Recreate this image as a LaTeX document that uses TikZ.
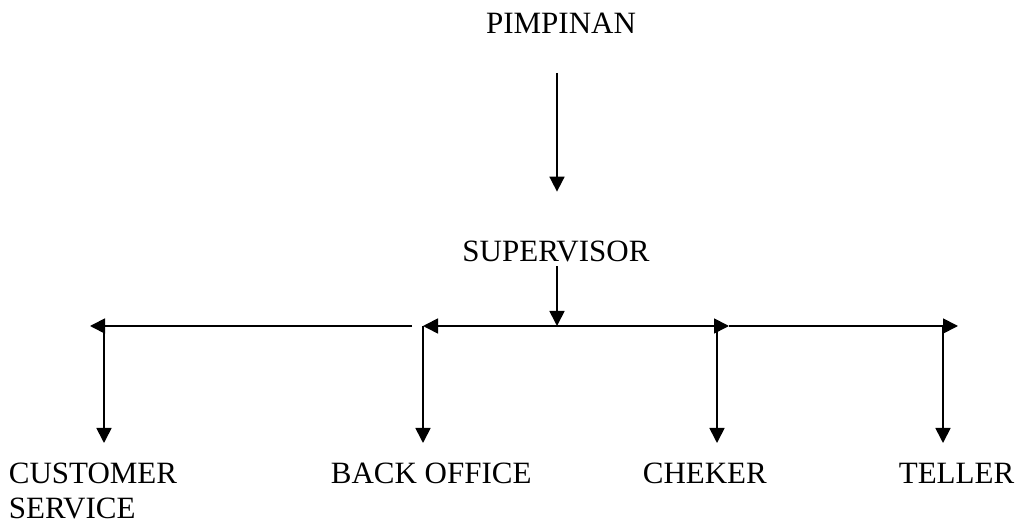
\documentclass[tikz,border=0pt]{standalone}
\usepackage{fontspec}
\setmainfont{Liberation Serif}
\usetikzlibrary{arrows.meta}

\begin{document}
\begin{tikzpicture}[x=1pt,y=1pt,>={Triangle[length=15pt,width=15pt]},line width=1.7pt,
	jabatan/.style={inner sep=0pt,font=\fontsize{31}{35}\selectfont,align=left}]
	\useasboundingbox (0,0) rectangle (1017,522);
	% jabatan
	\node[jabatan,anchor=base] (pimp) at (561,488) {PIMPINAN};
	\node[jabatan,anchor=base] (sup) at (556,260) {SUPERVISOR};
	\node[jabatan,anchor=north west] (cs) at (8,60) {CUSTOMER\\SERVICE};
	\node[jabatan,anchor=north west] (bo) at (330,60) {BACK OFFICE};
	\node[jabatan,anchor=north west] (ch) at (642,60) {CHEKER};
	\node[jabatan,anchor=north west] (te) at (898,60) {TELLER};
	% titik cabang
	\coordinate (hub) at (557,196);
	\coordinate (bo_tip) at (423,196);
	\coordinate (cs_start) at (412,196);
	\coordinate (cs_tip) at (90,196);
	\coordinate (cs_top) at (104,196);
	\coordinate (ch_tip) at (729,196);
	\coordinate (ch_top) at (717,196);
	\coordinate (te_tip) at (958,196);
	\coordinate (te_top) at (943,196);
	% garis
	\draw[->,shorten <=38pt,shorten >=49pt] (pimp.south -| hub) -- (sup.north -| hub);
	\draw[->,shorten <=3pt] (sup.south -| hub) -- (hub);
	\draw[->] (hub) -- (bo_tip);
	\draw[->] (cs_start) -- (cs_tip);
	\draw[->] (hub) -- (ch_tip);
	\draw[->] (ch_tip) -- (te_tip);
	\draw[->,shorten >=19pt] (cs_top) -- (cs_top |- cs.north);
	\draw[->,shorten >=19pt] (bo_tip) -- (bo_tip |- bo.north);
	\draw[->,shorten >=19pt] (ch_top) -- (ch_top |- ch.north);
	\draw[->,shorten >=19pt] (te_top) -- (te_top |- te.north);
\end{tikzpicture}
\end{document}
